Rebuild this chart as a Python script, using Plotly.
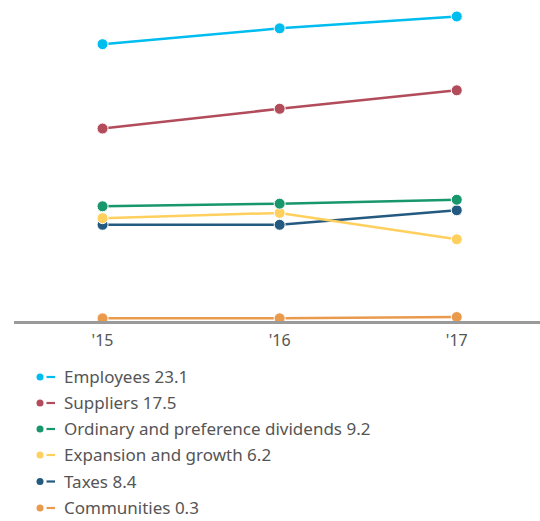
import plotly.graph_objects as go

years = ["'15", "'16", "'17"]
names = ["Employees", "Suppliers", "Ordinary and preference dividends",
         "Expansion and growth", "Taxes", "Communities"]
employees = [21.0, 22.2, 23.1]
suppliers = [14.6, 16.1, 17.5]
dividends = [8.7, 8.9, 9.2]
expansion = [7.8, 8.2, 6.2]
taxes = [7.3, 7.3, 8.4]
communities = [0.2, 0.2, 0.3]
legend_values = ["23.1", "17.5", "9.2", "6.2", "8.4", "0.3"]
colors = ["#00BDEF", "#B24B5A", "#17976B", "#FFD05E", "#245A80", "#EA9A4D"]

series = [employees, suppliers, dividends, expansion, taxes, communities]

fig = go.Figure()
for i in [5, 4, 3, 2, 1, 0]:
    fig.add_trace(go.Scatter(
        x=years, y=series[i], mode="lines+markers", name=names[i],
        line=dict(color=colors[i], width=2.5),
        marker=dict(color=colors[i], size=11, line=dict(color="white", width=1)),
        showlegend=False, hoverinfo="skip"))

L, W = 14, 526
plot_h = 321
total_h = 521


def px(x):
    return (x - L) / W


def py(y):
    return (plot_h - y) / plot_h


row_y = [377, 403, 429, 455, 481.5, 508]
for i, (n, v, c) in enumerate(zip(names, legend_values, colors)):
    yy = row_y[i]
    fig.add_shape(type="circle", xref="paper", yref="paper",
                  x0=px(36.5), x1=px(43.5), y0=py(yy + 3.5), y1=py(yy - 3.5),
                  fillcolor=c, line=dict(width=0))
    fig.add_shape(type="line", xref="paper", yref="paper",
                  x0=px(46.5), x1=px(55), y0=py(yy), y1=py(yy),
                  line=dict(color=c, width=2.2))
    fig.add_annotation(
        xref="paper", yref="paper", x=px(62), y=py(yy - 0.5), xanchor="left", yanchor="middle",
        text=f"{n} {v}", showarrow=False,
        font=dict(family="Noto Sans", size=17, color="#555555"))

fig.update_layout(
    width=540, height=521,
    margin=dict(l=L, r=0, t=0, b=total_h - plot_h),
    plot_bgcolor="white", paper_bgcolor="white",
    xaxis=dict(type="category", range=[-0.5, 2.47], showgrid=False, zeroline=False,
               showline=True, linecolor="#9A9A9A", linewidth=2.5, ticks="",
               ticklabelstandoff=3,
               tickfont=dict(family="Noto Sans", size=16, color="#555555"),
               layer="below traces", fixedrange=True),
    yaxis=dict(range=[0, 24.35], visible=False, fixedrange=True),
    showlegend=False,
)

fig.write_html("out.html")
